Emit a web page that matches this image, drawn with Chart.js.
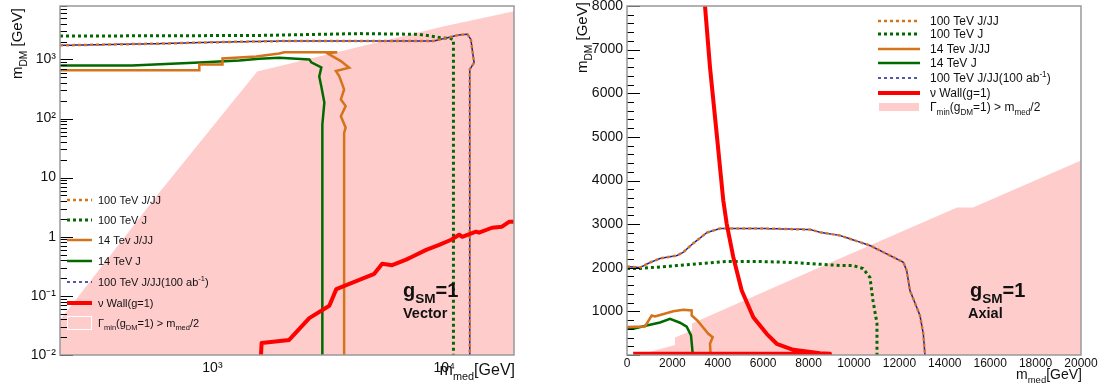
<!DOCTYPE html>
<html><head><meta charset="utf-8">
<script src="https://cdn.jsdelivr.net/npm/chart.js@4.4.1/dist/chart.umd.min.js"></script>
<style>
html,body{margin:0;padding:0;background:#fff;}
#wrap{position:relative;width:1104px;height:389px;overflow:hidden;background:#fff;}
canvas{position:absolute;top:0;}
</style></head><body>
<div id="wrap">
<canvas id="cv" width="552" height="389" style="left:0"></canvas>
<canvas id="ca" width="552" height="389" style="left:552px"></canvas>
</div>
<script>
// ---------- Vector panel (log-log) ----------
const VEC_PINK_X = [220, 590, 1560, 10000, 20000];
const VEC_PINK_Y = [0.039, 5.6, 627, 3620, 6500];
const VEC_RED_X = [1620, 1630, 2143, 2617, 3194, 3423, 4990, 5400, 5960, 6850, 7270, 8360, 9510, 10720, 11600, 11950, 13720, 14130, 16070, 17750, 19040, 20000];
const VEC_RED_Y = [0.01, 0.016, 0.018, 0.042, 0.068, 0.13, 0.236, 0.35, 0.33, 0.41, 0.46, 0.60, 0.73, 0.89, 1.08, 1.0, 1.22, 1.17, 1.42, 1.48, 1.79, 1.79];
const VEC_GSOL_X = [220, 450, 878, 1306, 1592, 1940, 2620, 2670, 2950, 2890, 2950, 3040, 2980, 2980];
const VEC_GSOL_Y = [790, 790, 890, 960, 1030, 1065, 1000, 890, 731, 515, 348, 187, 79, 0.01];
const VEC_OSOL_X = [220, 878, 878, 1105, 1105, 1546, 1940, 2040, 3455, 3137, 3582, 3890, 3410, 3524, 3700, 3582, 3757, 3582, 3757, 3700, 3700];
const VEC_OSOL_Y = [652, 652, 822, 822, 1040, 1120, 1260, 1315, 1315, 1265, 935, 723, 633, 521, 310, 210, 162, 109, 70, 57, 0.01];
const VEC_GDOT_X = [220, 1590, 4300, 7800, 9650, 10700, 10960, 10960];
const VEC_GDOT_Y = [2480, 2540, 2730, 2655, 2333, 2250, 2150, 0.01];
const VEC_JJ_X = [220, 600, 1000, 1940, 9000, 9660, 10670, 11580, 12590, 13030, 13220, 13450, 12890, 12890];
const VEC_JJ_Y = [1727, 1850, 1950, 2040, 2040, 2183, 2400, 2590, 2655, 2183, 1440, 880, 676, 0.01];
const VEC_JJ100_X = [220, 600, 1000, 1940, 9000, 9660, 10670, 11580, 12590, 13030, 13220, 13450, 12890, 12890];
const VEC_JJ100_Y = [1727, 1850, 1950, 2040, 2040, 2183, 2400, 2590, 2655, 2183, 1440, 880, 676, 0.01];
const VEC_X_TICKS = [1000, 10000];
const VEC_X_TICK_LABELS = ['10³', '10⁴'];
const VEC_Y_MAJORS = [0.01, 0.1, 1, 10, 100, 1000];
const VEC_Y_TICK_LABELS = ['10⁻²', '10⁻¹', '1', '10', '10²', '10³'];

// ---------- Axial panel (linear) ----------
const AX_PINK_X = [500, 2114, 2114, 2860, 2860, 9400, 14540, 15240, 20000];
const AX_PINK_Y = [0, 230, 400, 560, 720, 2215, 3380, 3380, 4460];
const AX_RED_X = [3436, 3656, 3951, 4242, 4392, 4683, 5053, 5564, 6154, 6594, 7326, 8502, 8942, 270];
const AX_RED_Y = [8000, 6596, 5070, 3541, 3007, 2242, 1478, 866, 486, 257, 119, 41, 28, 28];
const AX_GDOT_X = [0, 573, 2203, 4405, 5859, 7312, 9383, 9956, 10396, 10704, 10836, 11012, 11012];
const AX_GDOT_Y = [1983, 1983, 2051, 2143, 2143, 2120, 2051, 2051, 1983, 1776, 1249, 722, 0];
const AX_JJ_X = [0, 573, 1013, 1454, 2203, 2467, 2907, 3524, 4097, 5859, 8061, 8502, 9383, 10704, 12172, 12319, 12466, 12906, 13053, 13127];
const AX_JJ_Y = [2028, 2005, 2120, 2212, 2281, 2350, 2555, 2807, 2900, 2900, 2876, 2815, 2739, 2510, 2127, 1937, 1478, 905, 486, 0];
const AX_JJ100_X = [0, 573, 1013, 1454, 2203, 2467, 2907, 3524, 4097, 5859, 8061, 8502, 9383, 10704, 12172, 12319, 12466, 12906, 13053, 13127];
const AX_JJ100_Y = [2028, 2005, 2120, 2212, 2281, 2350, 2555, 2807, 2900, 2900, 2876, 2815, 2739, 2510, 2127, 1937, 1478, 905, 486, 0];
const AX_OSOL_X = [0, 793, 1087, 1233, 1380, 2040, 2481, 2849, 2849, 3097, 3583, 3776, 3656, 3686];
const AX_OSOL_Y = [640, 653, 905, 882, 905, 1004, 1036, 1020, 905, 791, 486, 408, 257, 0];
const AX_GSOL_X = [0, 279, 868, 1454, 1894, 2335, 2630, 2820, 2900];
const AX_GSOL_Y = [600, 600, 676, 745, 830, 740, 650, 450, 0];
const AX_X_TICKS = [0, 2000, 4000, 6000, 8000, 10000, 12000, 14000, 16000, 18000, 20000];
const AX_X_TICK_LABELS = ['0', '2000', '4000', '6000', '8000', '10000', '12000', '14000', '16000', '18000', '20000'];
const AX_Y_MAJORS = [0, 1000, 2000, 3000, 4000, 5000, 6000, 7000, 8000];
const AX_Y_TICK_LABELS = ['', '1000', '2000', '3000', '4000', '5000', '6000', '7000', '8000'];
const AX_Y_MINOR_STEP = 200;

// ---------- Text ----------
const LEGEND_TEXT = [
  [['100 TeV J/JJ']],
  [['100 TeV J']],
  [['14 Tev J/JJ']],
  [['14 TeV J']],
  [['100 TeV J/JJ(100 ab'], ['-1', 'sup'], [')']],
  [['ν Wall(g=1)']],
  [['Γ'], ['min', 'sub'], ['(g'], ['DM', 'sub'], ['=1) > m'], ['med', 'sub'], ['/2']]
];
const Y_TITLE = [['m'], ['DM', 'sub'], [' [GeV]']];
const X_TITLE = [['m'], ['med', 'sub'], ['[GeV]']];
const COUPLING_TEXT = [['g'], ['SM', 'sub'], ['=1']];
const PANEL_NAMES = ['Vector', 'Axial'];

const FONT = '"Liberation Sans", Arial, Helvetica, sans-serif';
const ORANGE = '#d4731a', GREEN = '#006a00', RED = '#ff0000', BLUE = '#1e1e9e', PINK = '#ffcccc';

function pts(X, Y) { return X.map((x, i) => ({ x: x, y: Y[i] })); }

function seriesSet(d) {
  return [
    { label: 'nu wall', data: pts(d.red[0], d.red[1]), borderColor: RED, borderWidth: 4, borderJoinStyle: 'round', fill: false },
    { label: '100 ab', data: pts(d.jj100[0], d.jj100[1]), borderColor: BLUE, borderWidth: 1.5, borderDash: [3, 3], borderDashOffset: 3, fill: false },
    { label: '100 TeV J/JJ', data: pts(d.jj[0], d.jj[1]), borderColor: ORANGE, borderWidth: 2.5, borderDash: [3, 3], fill: false },
    { label: '100 TeV J', data: pts(d.gdot[0], d.gdot[1]), borderColor: GREEN, borderWidth: 3, borderDash: [3, 3], fill: false },
    { label: '14 TeV J/JJ', data: pts(d.osol[0], d.osol[1]), borderColor: ORANGE, borderWidth: 2.5, fill: false },
    { label: '14 TeV J', data: pts(d.gsol[0], d.gsol[1]), borderColor: GREEN, borderWidth: 2.5, fill: false },
    { label: 'width', data: pts(d.pink[0], d.pink[1]), borderColor: PINK, borderWidth: 0, backgroundColor: PINK, fill: 'start' }
  ];
}
// legend order -> dataset index
const LEGEND_ORDER = [2, 3, 4, 5, 1, 0, 6];

const SUBR = 0.68;
function segFont(size, weight, kind) { return weight + ' ' + (kind ? size * SUBR : size) + 'px ' + FONT; }
function richWidth(ctx, segs, size, weight) {
  let w = 0;
  for (const s of segs) { ctx.font = segFont(size, weight, s[1]); w += ctx.measureText(s[0]).width; }
  return w;
}
function drawRich(ctx, segs, x, y, size, weight, color, align) {
  weight = weight || 'normal';
  if (align === 'right') x -= richWidth(ctx, segs, size, weight);
  ctx.fillStyle = color || '#000';
  ctx.textBaseline = 'alphabetic';
  ctx.textAlign = 'left';
  for (const s of segs) {
    ctx.font = segFont(size, weight, s[1]);
    const dy = s[1] === 'sub' ? size * 0.32 : (s[1] === 'sup' ? -size * 0.42 : 0);
    ctx.fillText(s[0], x, y + dy);
    x += ctx.measureText(s[0]).width;
  }
}

function makePlugin(cfg) {
  return {
    id: 'rootStyle',
    afterDatasetsDraw(chart) {
      const ctx = chart.ctx, a = chart.chartArea, ys = chart.scales.y;
      ctx.save();
      ctx.strokeStyle = '#000'; ctx.lineWidth = 1;
      for (const t of ys.ticks) {
        const p = Math.round(ys.getPixelForValue(t.value)) + 0.5;
        const L = t.mj ? 13 : 7;
        ctx.beginPath(); ctx.moveTo(a.left, p); ctx.lineTo(a.left + L, p); ctx.stroke();
      }
      ctx.strokeStyle = '#999'; ctx.lineWidth = 1.5;
      ctx.strokeRect(a.left, a.top, a.right - a.left, a.bottom - a.top);
      ctx.restore();
    },
    afterDraw(chart) {
      const ctx = chart.ctx;
      ctx.save();
      const L = cfg.legend;
      LEGEND_ORDER.forEach((di, k) => {
        const ds = chart.data.datasets[di];
        const y = L.ys[k];
        if (ds.fill) {
          ctx.fillStyle = ds.backgroundColor;
          ctx.fillRect(L.x0, y - L.boxH / 2, L.x1 - L.x0, L.boxH);
          ctx.strokeStyle = '#fff'; ctx.lineWidth = 1;
          ctx.strokeRect(L.x0 + 0.5, y - L.boxH / 2 + 0.5, L.x1 - L.x0 - 1, L.boxH - 1);
        } else {
          ctx.strokeStyle = ds.borderColor;
          ctx.lineWidth = Math.min(ds.borderWidth, L.maxW);
          ctx.setLineDash(ds.borderDash || []);
          ctx.lineDashOffset = 0;
          ctx.beginPath(); ctx.moveTo(L.x0, y); ctx.lineTo(L.x1, y); ctx.stroke();
          ctx.setLineDash([]);
        }
        drawRich(ctx, LEGEND_TEXT[k], L.tx, y + L.size * 0.36, L.size, 'normal', '#111');
      });
      drawRich(ctx, COUPLING_TEXT, cfg.gx, cfg.gy, 20, 'bold', '#111');
      ctx.font = 'bold 14.5px ' + FONT; ctx.fillStyle = '#111'; ctx.textAlign = 'left'; ctx.textBaseline = 'alphabetic';
      ctx.fillText(cfg.name, cfg.nx, cfg.ny);
      ctx.save();
      ctx.translate(cfg.ytx, cfg.yty);
      ctx.rotate(-Math.PI / 2);
      drawRich(ctx, Y_TITLE, 0, 0, 15, 'normal', '#111');
      ctx.restore();
      drawRich(ctx, X_TITLE, chart.chartArea.right + 1, cfg.xty, cfg.xts, 'normal', '#111', 'right');
      ctx.restore();
    }
  };
}

const commonOpts = (xScale, yScale, pad) => ({
  responsive: false, animation: false, events: [],
  layout: { padding: pad },
  plugins: { legend: { display: false }, tooltip: { enabled: false } },
  elements: { point: { radius: 0, hoverRadius: 0 }, line: { tension: 0 } },
  scales: { x: xScale, y: yScale }
});

const vecYTicks = [];
VEC_Y_MAJORS.forEach((m, i) => {
  vecYTicks.push({ value: m, mj: true, lab: VEC_Y_TICK_LABELS[i] });
  for (let k = 2; k <= 9; k++) { const v = m * k; if (v <= 8000) vecYTicks.push({ value: v, mj: false, lab: '' }); }
});

new Chart(document.getElementById('cv'), {
  type: 'line',
  data: { datasets: seriesSet({
    red: [VEC_RED_X, VEC_RED_Y], jj100: [VEC_JJ100_X, VEC_JJ100_Y], jj: [VEC_JJ_X, VEC_JJ_Y],
    gdot: [VEC_GDOT_X, VEC_GDOT_Y], osol: [VEC_OSOL_X, VEC_OSOL_Y], gsol: [VEC_GSOL_X, VEC_GSOL_Y], pink: [VEC_PINK_X, VEC_PINK_Y] }) },
  options: commonOpts(
    { type: 'logarithmic', min: 220, max: 20000, bounds: 'data',
      afterBuildTicks: s => { s.ticks = VEC_X_TICKS.map((v, i) => ({ value: v, lab: VEC_X_TICK_LABELS[i] })); },
      ticks: { autoSkip: false, maxRotation: 0, padding: 5, color: '#111', font: { family: FONT, size: 14 }, callback: (v, i, t) => t[i].lab },
      grid: { display: false, drawTicks: false }, border: { display: false },
      afterFit: s => { s.height = 34; s.paddingLeft = 0; s.paddingRight = 0; s.paddingTop = 0; s.paddingBottom = 0; } },
    { type: 'logarithmic', min: 0.01, max: 8000, bounds: 'data',
      afterBuildTicks: s => { s.ticks = vecYTicks.map(t => Object.assign({}, t)); },
      ticks: { autoSkip: false, padding: 4, color: '#111', font: { family: FONT, size: 14 }, callback: (v, i, t) => t[i].lab },
      grid: { display: false, drawTicks: false }, border: { display: false },
      afterFit: s => { s.width = 60; s.paddingTop = 0; s.paddingBottom = 0; s.paddingLeft = 0; s.paddingRight = 0; } },
    { left: 0, right: 38, top: 6, bottom: 0 }
  ),
  plugins: [makePlugin({
    legend: { x0: 67, x1: 92, tx: 98, ys: [200, 220, 240, 261, 282, 303, 323], size: 11, boxH: 14, maxW: 4 },
    gx: 403, gy: 297, name: PANEL_NAMES[0], nx: 403, ny: 318,
    ytx: 22, yty: 79, xty: 375, xts: 16
  })]
});

const axYTicks = [];
AX_Y_MAJORS.forEach((m, i) => {
  axYTicks.push({ value: m, mj: true, lab: AX_Y_TICK_LABELS[i] });
  if (i < AX_Y_MAJORS.length - 1) for (let v = m + AX_Y_MINOR_STEP; v < AX_Y_MAJORS[i + 1]; v += AX_Y_MINOR_STEP) axYTicks.push({ value: v, mj: false, lab: '' });
});

new Chart(document.getElementById('ca'), {
  type: 'line',
  data: { datasets: seriesSet({
    red: [AX_RED_X, AX_RED_Y], jj100: [AX_JJ100_X, AX_JJ100_Y], jj: [AX_JJ_X, AX_JJ_Y],
    gdot: [AX_GDOT_X, AX_GDOT_Y], osol: [AX_OSOL_X, AX_OSOL_Y], gsol: [AX_GSOL_X, AX_GSOL_Y], pink: [AX_PINK_X, AX_PINK_Y] }) },
  options: commonOpts(
    { type: 'linear', min: 0, max: 20000, bounds: 'data',
      afterBuildTicks: s => { s.ticks = AX_X_TICKS.map((v, i) => ({ value: v, lab: AX_X_TICK_LABELS[i] })); },
      ticks: { autoSkip: false, maxRotation: 0, padding: 1, color: '#111', font: { family: FONT, size: 12 }, callback: (v, i, t) => t[i].lab },
      grid: { display: false, drawTicks: false }, border: { display: false },
      afterFit: s => { s.height = 34; s.paddingLeft = 0; s.paddingRight = 0; s.paddingTop = 0; s.paddingBottom = 0; } },
    { type: 'linear', min: 0, max: 8000, bounds: 'data',
      afterBuildTicks: s => { s.ticks = axYTicks.map(t => Object.assign({}, t)); },
      ticks: { autoSkip: false, padding: 4, color: '#111', font: { family: FONT, size: 14 }, callback: (v, i, t) => t[i].lab },
      grid: { display: false, drawTicks: false }, border: { display: false },
      afterFit: s => { s.width = 75; s.paddingTop = 0; s.paddingBottom = 0; s.paddingLeft = 0; s.paddingRight = 0; } },
    { left: 0, right: 23, top: 6, bottom: 0 }
  ),
  plugins: [makePlugin({
    legend: { x0: 326, x1: 368, tx: 378, ys: [21, 34, 49, 63, 78, 93, 107], size: 12, boxH: 10, maxW: 4 },
    gx: 418, gy: 297, name: PANEL_NAMES[1], nx: 416, ny: 318,
    ytx: 35, yty: 73, xty: 379, xts: 14
  })]
});
</script>
</body></html>
